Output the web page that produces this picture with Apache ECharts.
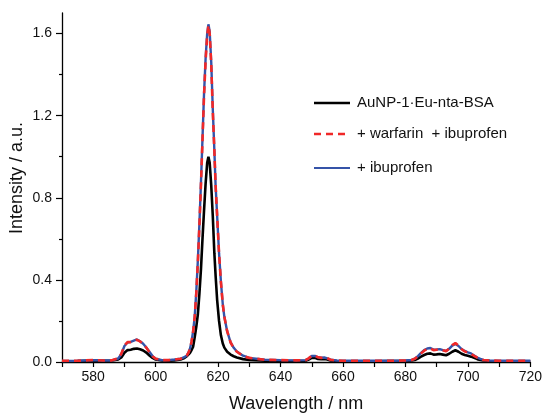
<!DOCTYPE html>
<html><head><meta charset="utf-8">
<script src="https://cdn.jsdelivr.net/npm/echarts@6/dist/echarts.min.js"></script>
<style>html,body{margin:0;padding:0;background:#fff}#c{width:545px;height:418px}</style>
</head><body><div id="c"></div>
<script>
var wavelengths = [
  570,575,580,583,586,588,589,590,591,592,593,594,595,596,597,598,599,600,
  602,604,606,
  608,609,610,610.5,611,611.5,612,612.5,613,613.5,614,614.5,615,615.5,616,616.5,616.9,617.3,617.8,618.3,618.8,619.2,619.7,620.3,620.9,621.5,622,622.9,624,625,626,628,630,
  635,640,645,
  648,649,650,651,652,653,654,655,656,658,660,
  665,670,675,680,682,683,684,685,686,687,688,689,690,691,692,693,694,695,696,697,698,699,700,701,702,703,704,705,707,710,715,720
];
var blackValues = [
  0.004,0.005,0.007,0.006,0.007,0.012,0.022,0.045,0.058,0.06,0.064,0.066,0.062,0.056,0.046,0.032,0.02,0.012,
  0.007,0.006,0.008,
  0.012,0.018,0.028,0.035,0.045,0.058,0.075,0.12,0.17,0.23,0.33,0.45,0.6,0.74,0.87,0.97,1.0,0.97,0.86,0.71,0.53,0.42,0.3,0.2,0.13,0.09,0.07,0.05,0.036,0.028,0.022,0.014,0.01,
  0.006,0.005,0.005,
  0.006,0.012,0.02,0.021,0.015,0.013,0.015,0.012,0.007,0.005,0.004,
  0.004,0.004,0.005,0.005,0.007,0.01,0.017,0.026,0.034,0.04,0.042,0.036,0.037,0.039,0.036,0.033,0.04,0.05,0.057,0.05,0.04,0.034,0.03,0.026,0.02,0.014,0.01,0.007,0.005,0.004,0.004,0.004
];
var redValues = [
  0.006,0.006,0.01,0.007,0.008,0.018,0.04,0.08,0.097,0.097,0.102,0.108,0.1,0.088,0.07,0.048,0.028,0.016,
  0.009,0.009,0.012,
  0.016,0.022,0.032,0.045,0.065,0.1,0.15,0.22,0.33,0.48,0.66,0.86,1.08,1.3,1.47,1.59,1.64,1.6,1.45,1.22,1.03,0.86,0.71,0.53,0.39,0.28,0.22,0.15,0.095,0.068,0.05,0.03,0.02,
  0.011,0.009,0.008,
  0.009,0.018,0.03,0.031,0.023,0.02,0.022,0.018,0.011,0.007,0.006,
  0.006,0.006,0.006,0.007,0.01,0.016,0.028,0.042,0.055,0.064,0.066,0.058,0.06,0.062,0.057,0.053,0.065,0.082,0.092,0.08,0.062,0.052,0.045,0.04,0.03,0.021,0.014,0.01,0.007,0.006,0.006,0.006
];
var blueValues = [
  0.005,0.006,0.009,0.007,0.008,0.017,0.038,0.078,0.095,0.098,0.104,0.11,0.101,0.089,0.071,0.05,0.029,0.016,
  0.009,0.009,0.012,
  0.016,0.022,0.032,0.046,0.066,0.1,0.15,0.22,0.34,0.49,0.67,0.87,1.09,1.31,1.48,1.6,1.645,1.61,1.46,1.23,1.03,0.86,0.71,0.53,0.39,0.28,0.22,0.15,0.096,0.069,0.051,0.031,0.02,
  0.011,0.009,0.008,
  0.009,0.017,0.029,0.03,0.023,0.021,0.022,0.018,0.011,0.007,0.006,
  0.006,0.006,0.006,0.007,0.01,0.016,0.029,0.044,0.058,0.066,0.068,0.06,0.061,0.063,0.058,0.054,0.064,0.08,0.088,0.078,0.063,0.054,0.047,0.042,0.032,0.022,0.015,0.01,0.007,0.006,0.006,0.006
];
var seriesNames = ['AuNP-1\u00B7Eu-nta-BSA', '+ warfarin  + ibuprofen', '+ ibuprofen'];
var seriesColors = ['#000000', '#f02828', '#3553a8'];
var xTickLabels = [580,600,620,640,660,680,700,720];
var yTickLabels = [0.0,0.4,0.8,1.2,1.6];
var yMinorTicks = [0.2,0.6,1.0,1.4];

function pairs(v){ return wavelengths.map(function(w,i){ return [w, v[i]]; }); }

var font = 'Arial, "Liberation Sans", sans-serif';
var legendRows = [103, 134, 168];
var graphics = [{
  type:'text', x:17, y:178, rotation:Math.PI/2,
  style:{text:'Intensity / a.u.', font:'18px Arial, "Liberation Sans", sans-serif', fill:'#111', textAlign:'center', textVerticalAlign:'middle'}
}];
seriesNames.forEach(function(n, i){
  graphics.push({type:'line', shape:{x1:314, y1:legendRows[i], x2:350, y2:legendRows[i]},
    style:{stroke:seriesColors[i], lineWidth: i===2 ? 2.2 : 2.6, lineDash: i===1 ? [7,5] : null}});
  graphics.push({type:'text', x:357, y:legendRows[i],
    style:{text:n, font:'15px Arial, "Liberation Sans", sans-serif', fill:'#111', textAlign:'left', textVerticalAlign:'middle'}});
});

var chart = echarts.init(document.getElementById('c'), null, {renderer:'canvas'});
chart.setOption({
  animation:false,
  backgroundColor:'#fff',
  grid:{left:62, right:14, top:13, bottom:50, containLabel:false},
  xAxis:{
    type:'value', min:570, max:720, interval:10,
    axisLine:{lineStyle:{color:'#000', width:1.3}},
    axisTick:{length:5, lineStyle:{color:'#000', width:1.2}},
    axisLabel:{margin:8, fontFamily:font, fontSize:14, color:'#111',
      formatter:function(v){ return xTickLabels.indexOf(v) >= 0 ? String(v) : ''; }},
    splitLine:{show:false},
    name:'Wavelength / nm', nameLocation:'middle', nameGap:33,
    nameTextStyle:{fontFamily:font, fontSize:18, color:'#111'}
  },
  yAxis:[{
    type:'value', min:0, max:1.7, position:'left',
    axisLine:{show:true, lineStyle:{color:'#000', width:1.3}},
    axisTick:{show:true, length:6, customValues:yTickLabels, lineStyle:{color:'#000', width:1.2}},
    axisLabel:{margin:10, fontFamily:font, fontSize:14, color:'#111', customValues:yTickLabels,
      formatter:function(v){ return v.toFixed(1); }},
    splitLine:{show:false}
  },{
    type:'value', min:0, max:1.7, position:'left', offset:0,
    axisLine:{show:false},
    axisTick:{show:true, length:3, customValues:yMinorTicks, lineStyle:{color:'#000', width:1.2}},
    axisLabel:{show:false},
    splitLine:{show:false}
  }],
  graphic:graphics,
  series:[
    {name:seriesNames[0], type:'line', data:pairs(blackValues), showSymbol:false, symbol:'none', z:2,
     lineStyle:{color:seriesColors[0], width:2.6}},
    {name:seriesNames[1], type:'line', data:pairs(redValues), showSymbol:false, symbol:'none', z:4,
     lineStyle:{color:seriesColors[1], width:2.6, type:[7,5]}},
    {name:seriesNames[2], type:'line', data:pairs(blueValues), showSymbol:false, symbol:'none', z:3,
     lineStyle:{color:seriesColors[2], width:2.4}}
  ]
});
</script></body></html>
